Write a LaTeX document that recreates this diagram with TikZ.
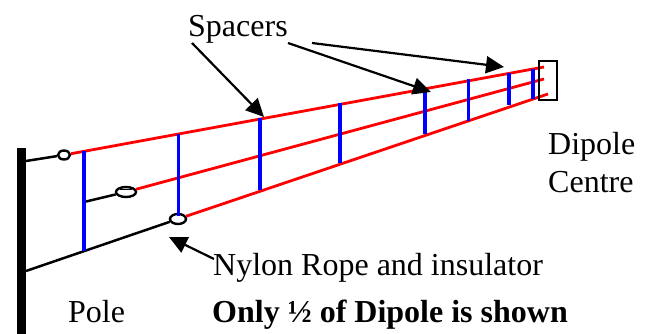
\documentclass[tikz,border=0pt]{standalone}
\usepackage{fontspec}
\setmainfont{Liberation Serif}
\usetikzlibrary{arrows.meta, shapes.geometric}
\tikzset{
    wire/.style={red, line width=2.8pt},
    rope/.style={black, line width=2.5pt},
    spacer/.style={blue, line width=3.2pt},
    insulator/.style={draw, line width=2.4pt, ellipse, fill=white, inner sep=0pt},
    callout/.style={black, line width=2.2pt, -{Triangle[length=18pt,width=17pt]}},
    label/.style={inner sep=0pt, anchor=base west, font=\fontsize{32}{32}\selectfont}
}
\begin{document}
\begin{tikzpicture}[x=1pt,y=-1pt]
            % Same size as the reference
            \useasboundingbox (0,0) rectangle (649,334);

            % Pole and fixing points
            \fill (17,148) rectangle (26,334);
            \coordinate (poleA) at (26,161);
            \coordinate (poleC) at (26,271);
            \coordinate (ropeB) at (84,202);

            % Insulators
            \node[insulator, minimum width=12pt, minimum height=9pt] (insA) at (64,155) {};
            \node[insulator, minimum width=20pt, minimum height=10pt] (insB) at (126,192) {};
            \node[insulator, minimum width=16pt, minimum height=10pt] (insC) at (178,219) {};
            \draw[line width=1.8pt] (120,189.5) -- (132,189.5);

            % Ends of the wires at the centre
            \coordinate (endA) at (544,67);
            \coordinate (endB) at (544,79);
            \coordinate (endC) at (548,94);

            \draw[rope] (poleA) -- (insA);
            \draw[rope] (ropeB) -- (insB);
            \draw[rope] (poleC) -- (insC);
            \draw[wire] (insA) -- (endA);
            \draw[wire] (insB) -- (endB);
            \draw[wire] (insC) -- (endC);

            % Spacers: x, top, bottom
            \foreach \x/\top/\bot in {84/151/251, 178.5/134/216, 260/118/190, 340/103/163,
                                      425/92/134, 468.5/79/121, 509/73/105, 533/69/99}
                \draw[spacer] (\x,\top) -- (\x,\bot);

            % Centre box
            \node[draw, line width=2.4pt, minimum width=18pt, minimum height=39pt, inner sep=0pt] (centre) at (548,80.5) {};

            % Labels
            \node[label] (spacers) at (188,37) {Spacers};
            \node[label] (dipole) at (548,155) {Dipole};
            \node[label] (dipolecentre) at (548,193) {Centre};
            \node[label] (nylon) at (213,276) {Nylon Rope and insulator};
            \node[label] (pole) at (68,323) {Pole};
            \node[label, font=\fontsize{32}{32}\selectfont\bfseries] (note) at (212,323) {Only ½ of Dipole is shown};

            % Arrows
            \coordinate (tipA) at (264,117);
            \coordinate (tipB) at (431,92);
            \coordinate (tipC) at (504,67);
            \coordinate (tipD) at (169,237);
            \draw[callout] (192,43) -- (tipA);
            \draw[callout] (288,43) -- (tipB);
            \draw[callout] (312,43) -- (tipC);
            \draw[callout] (214,259) -- (tipD);
        \end{tikzpicture}
\end{document}
